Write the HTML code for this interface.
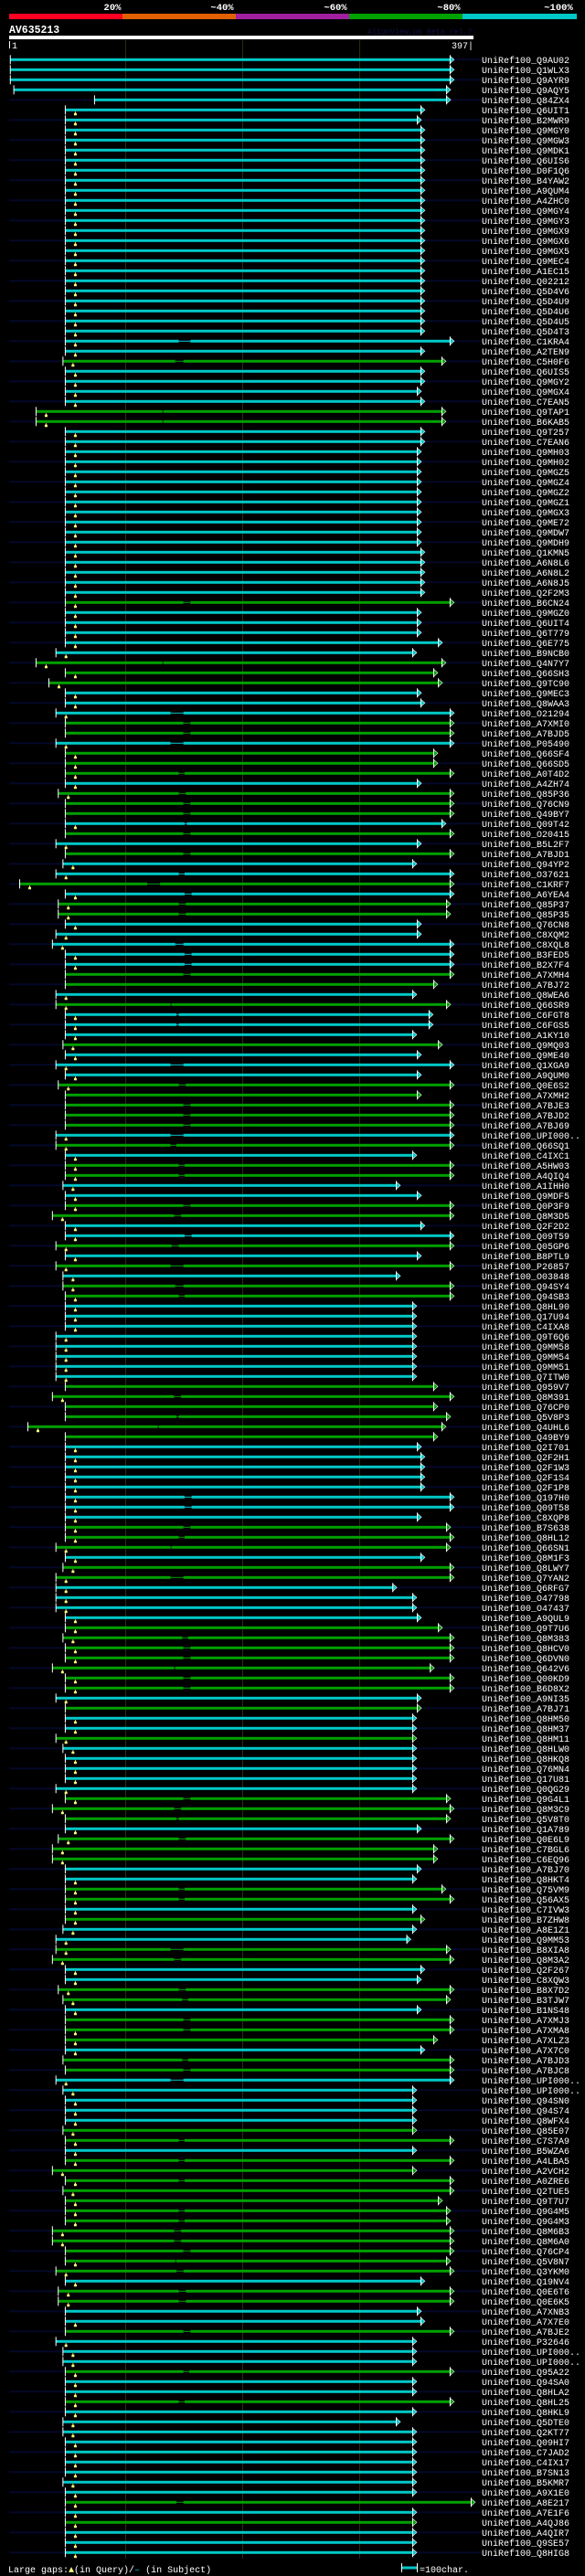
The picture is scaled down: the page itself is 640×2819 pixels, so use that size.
<!DOCTYPE html>
<html><head><meta charset="utf-8"><title>AV635213 alignment overview</title>
<style>
html,body{margin:0;padding:0;background:#000;}
svg{display:block;}
text{font-family:"Liberation Mono","DejaVu Sans Mono",monospace;}
</style></head>
<body>
<svg id="chart" width="640" height="2819" viewBox="0 0 640 2819" xmlns="http://www.w3.org/2000/svg">
<rect x="0" y="0" width="640" height="2819" fill="#000"/>
<g>
<text x="123" y="11" fill="#fff" font-size="10.5" font-weight="bold" text-anchor="middle">20%</text>
<text x="243" y="11" fill="#fff" font-size="10.5" font-weight="bold" text-anchor="middle">~40%</text>
<text x="367" y="11" fill="#fff" font-size="10.5" font-weight="bold" text-anchor="middle">~60%</text>
<text x="491" y="11" fill="#fff" font-size="10.5" font-weight="bold" text-anchor="middle">~80%</text>
<text x="611" y="11" fill="#fff" font-size="10.5" font-weight="bold" text-anchor="middle">~100%</text>
<rect x="10" y="15" width="124" height="6" fill="#ff0022"/>
<rect x="134" y="15" width="124" height="6" fill="#e06000"/>
<rect x="258" y="15" width="124" height="6" fill="#a020a0"/>
<rect x="382" y="15" width="124" height="6" fill="#00a000"/>
<rect x="506" y="15" width="125" height="6" fill="#00c8c8"/>
</g>
<text x="10" y="36" fill="#fff" font-size="11.5" font-weight="bold">AV635213</text>
<text x="402" y="37" fill="#101048" font-size="8.3">AlignView.pm Beta rel.7</text>
<rect x="10" y="39" width="508" height="4" fill="#fff"/>
<rect x="10" y="45" width="1" height="8" fill="#fff"/>
<text x="13" y="53" fill="#fff" font-size="10">1</text>
<text x="518" y="53" fill="#fff" font-size="10" text-anchor="end">397|</text>
<g id="grid"></g>
<g id="rows"></g>
<g>
<text x="9" y="2815" fill="#fff" font-size="10">Large gaps:<tspan fill="#ffff80">▲</tspan>(in Query)/<tspan fill="#00c8c8">–</tspan> (in Subject)</text>
<rect x="439" y="2808.5" width="17" height="3" fill="#00c8c8"/>
<rect x="439" y="2805" width="1" height="10" fill="#fff"/>
<rect x="456" y="2805" width="1" height="10" fill="#fff"/>
<text x="459" y="2815" fill="#fff" font-size="10">=100char.</text>
</g>
</svg>
<script>
const gridTicks = [100, 200, 300];
const hitIds = ["Q9AU02","Q1WLX3","Q9AYR9","Q9AQY5","Q84ZX4","Q6UIT1","B2MWR9","Q9MGY0","Q9MGW3","Q9MDK1","Q6UIS6","D0F1Q6","B4YAW2","A9QUM4","A4ZHC0","Q9MGY4","Q9MGY3","Q9MGX9","Q9MGX6","Q9MGX5","Q9MEC4","A1EC15","Q02212","Q5D4V6","Q5D4U9","Q5D4U6","Q5D4U5","Q5D4T3","C1KRA4","A2TEN9","C5H0F6","Q6UIS5","Q9MGY2","Q9MGX4","C7EAN5","Q9TAP1","B6KAB5","Q9T257","C7EAN6","Q9MH03","Q9MH02","Q9MGZ5","Q9MGZ4","Q9MGZ2","Q9MGZ1","Q9MGX3","Q9ME72","Q9MDW7","Q9MDH9","Q1KMN5","A6N8L6","A6N8L2","A6N8J5","Q2F2M3","B6CN24","Q9MGZ0","Q6UIT4","Q6T779","Q6E775","B9NCB0","Q4N7Y7","Q66SH3","Q9TC90","Q9MEC3","Q8WAA3","O21294","A7XMI0","A7BJD5","P05490","Q66SF4","Q66SD5","A0T4D2","A4ZH74","Q85P36","Q76CN9","Q49BY7","Q09T42","O20415","B5L2F7","A7BJD1","Q94YP2","O37621","C1KRF7","A6YEA4","Q85P37","Q85P35","Q76CN8","C8XQM2","C8XQL8","B3FED5","B2X7F4","A7XMH4","A7BJ72","Q8WEA6","Q66SR9","C6FGT8","C6FGS5","A1KY10","Q9MQ03","Q9ME40","Q1XGA9","A9QUM0","Q0E6S2","A7XMH2","A7BJE3","A7BJD2","A7BJ69","UPI000..","Q66SQ1","C4IXC1","A5HW03","A4QIQ4","A1IHH0","Q9MDF5","Q0P3F9","Q8M3D5","Q2F2D2","Q09T59","Q05GP6","B8PTL9","P26857","O03848","Q94SY4","Q94SB3","Q8HL90","Q17U94","C4IXA8","Q9T6Q6","Q9MM58","Q9MM54","Q9MM51","Q7ITW0","Q959V7","Q8M391","Q76CP0","Q5V8P3","Q4UHL6","Q49BY9","Q2I701","Q2F2H1","Q2F1W3","Q2F1S4","Q2F1P8","Q197H0","Q09T58","C8XQP8","B7S638","Q8HL12","Q66SN1","Q8M1F3","Q8LWY7","Q7YAN2","Q6RFG7","O47798","O47437","A9QUL9","Q9T7U6","Q8M383","Q8HCV0","Q6DVN0","Q642V6","Q00KD9","B6D8X2","A9NI35","A7BJ71","Q8HM50","Q8HM37","Q8HM11","Q8HLW0","Q8HKQ8","Q76MN4","Q17U81","Q0QG29","Q9G4L1","Q8M3C9","Q5V8T0","Q1A789","Q0E6L9","C7BGL6","C6EQ96","A7BJ70","Q8HKT4","Q75VM9","Q56AX5","C7IVW3","B7ZHW8","A8E1Z1","Q9MM53","B8XIA8","Q8M3A2","Q2F267","C8XQW3","B8X7D2","B3TJW7","B1NS48","A7XMJ3","A7XMA8","A7XLZ3","A7X7C0","A7BJD3","A7BJC8","UPI000..","UPI000..","Q94SN0","Q94S74","Q8WFX4","Q85E07","C7S7A9","B5WZA6","A4LBA5","A2VCH2","A0ZRE6","Q2TUE5","Q9T7U7","Q9G4M5","Q9G4M3","Q8M6B3","Q8M6A0","Q76CP4","Q5V8N7","Q3YKM0","Q19NV4","Q0E6T6","Q0E6K5","A7XNB3","A7X7E0","A7BJE2","P32646","UPI000..","UPI000..","Q95A22","Q94SA0","Q8HLA2","Q8HL25","Q8HKL9","Q5DTE0","Q2KT77","Q09HI7","C7JAD2","C4IX17","B7SN13","B5KMR7","A9X1E0","A8E217","A7E1F6","A4QJ86","A4QIR7","Q9SE57","Q8HIG8"];
const greenRows = [30,35,36,54,60,61,62,66,67,69,70,71,73,74,75,77,79,82,84,85,91,92,94,98,102,103,104,105,106,108,110,111,114,115,118,120,122,123,132,133,134,135,136,137,146,147,148,150,151,156,157,158,159,160,161,162,164,167,173,174,175,177,178,179,182,183,185,188,189,192,193,195,196,197,199,200,206,207,209,210,211,212,213,214,215,216,217,218,219,220,222,223,226,230,233,243,245];
const hitStarts = [1,1,1,4,73,48,48,48,48,48,48,48,48,48,48,48,48,48,48,48,48,48,48,48,48,48,48,48,48,48,46,48,48,48,48,23,23,48,48,48,48,48,48,48,48,48,48,48,48,48,48,48,48,48,48,48,48,48,48,40,23,48,34,48,48,40,48,48,40,48,48,48,48,42,48,48,48,48,40,48,46,40,9,48,42,42,48,40,37,48,48,48,48,40,40,48,48,48,46,48,40,48,42,48,48,48,48,40,40,48,48,48,46,48,48,37,48,48,40,48,40,46,46,48,48,48,48,40,40,40,40,40,48,37,48,48,16,48,48,48,48,48,48,48,48,48,48,48,40,48,46,40,40,40,40,48,48,46,48,48,37,48,48,40,48,48,48,40,46,48,48,48,40,48,37,48,48,42,37,37,48,48,48,48,48,48,46,40,40,37,48,48,42,46,48,48,48,48,48,46,48,40,46,48,48,48,46,48,48,48,37,48,46,48,48,48,37,37,48,48,40,48,42,42,48,48,48,40,46,46,48,48,48,48,48,46,46,48,48,48,48,46,48,48,48,48,48,48,48,40];
const hitEnds = [377,377,377,374,374,352,349,352,352,352,352,352,352,352,352,352,352,352,352,352,352,352,352,352,352,352,352,352,377,352,370,352,352,349,352,370,370,352,352,349,349,349,349,349,349,349,349,349,349,352,352,352,352,352,377,349,349,349,367,345,370,363,367,349,352,377,377,377,377,363,363,377,349,377,377,377,370,377,349,377,345,377,377,377,374,374,349,349,377,377,377,377,363,345,374,359,359,345,367,349,377,349,377,349,377,377,377,377,377,345,377,377,331,349,377,377,352,377,377,349,377,331,377,377,345,345,345,345,345,345,345,345,363,377,363,374,370,363,349,352,352,352,352,377,377,349,374,377,374,352,377,377,328,345,345,349,367,377,377,377,360,377,377,349,349,345,345,345,345,345,345,345,345,374,377,374,349,377,363,363,349,345,370,377,345,352,345,340,374,377,352,349,377,374,349,377,377,363,352,377,377,377,345,345,345,345,345,377,345,377,345,377,377,367,374,374,377,377,377,374,377,352,377,377,349,352,377,345,345,345,377,345,345,377,345,331,345,345,345,345,345,345,345,395,345,345,345,345,345];
const gapStarts = [0,0,0,0,0,0,0,0,0,0,0,0,0,0,0,0,0,0,0,0,0,0,0,0,0,0,0,0,145,0,142,0,0,0,0,131,131,0,0,0,0,0,0,0,0,0,0,0,0,0,0,0,0,0,149,0,0,0,0,0,131,0,0,0,0,138,149,149,138,0,0,145,0,145,149,149,150,149,0,149,0,145,118,150,145,145,0,0,142,150,150,149,0,0,138,143,143,0,0,0,138,0,145,0,149,149,149,138,138,0,145,145,0,0,149,141,0,150,139,0,138,0,142,145,0,0,0,0,0,0,0,0,0,141,0,143,127,0,0,0,0,0,0,150,150,0,149,145,138,0,0,138,0,0,0,0,0,148,149,149,141,149,149,0,0,0,0,0,0,0,0,0,0,149,141,143,0,145,0,0,0,0,145,145,0,0,0,0,138,141,0,0,145,148,0,149,149,0,0,148,149,138,0,0,0,0,0,145,0,145,0,145,0,0,145,145,141,141,149,142,143,0,145,145,0,0,149,0,0,0,149,0,0,145,0,0,0,0,0,0,0,0,0,143,0,0,0,0,0];
const gapEnds = [0,0,0,0,0,0,0,0,0,0,0,0,0,0,0,0,0,0,0,0,0,0,0,0,0,0,0,0,155,0,149,0,0,0,0,132,132,0,0,0,0,0,0,0,0,0,0,0,0,0,0,0,0,0,155,0,0,0,0,0,132,0,0,0,0,149,155,155,149,0,0,150,0,151,155,155,152,155,0,155,0,150,129,156,151,151,0,0,149,156,156,155,0,0,139,145,145,0,0,0,149,0,151,0,155,155,155,149,143,0,150,150,0,0,155,147,0,156,145,0,149,0,149,150,0,0,0,0,0,0,0,0,0,147,0,145,128,0,0,0,0,0,0,156,156,0,155,150,139,0,0,149,0,0,0,0,0,153,155,155,142,155,155,0,0,0,0,0,0,0,0,0,0,155,147,145,0,151,0,0,0,0,150,150,0,0,0,0,149,147,0,0,151,153,0,155,155,0,0,153,155,149,0,0,0,0,0,150,0,150,0,150,0,0,150,150,147,147,155,143,149,0,151,151,0,0,155,0,0,0,154,0,0,150,0,0,0,0,0,0,0,0,0,149,0,0,0,0,0];
const noMarkerRows = [0,1,2,3,4,66,67,74,75,77,79,91,92,103,104,105,106,132,134,135,137,164,175,180,195,199,200,218,224,226];

const NS = "http://www.w3.org/2000/svg";
const QUERY_LEN = 397, X0 = 10, X1 = 518;
function xScale(r){ return X0 + r * (X1 - X0) / QUERY_LEN; }
function yScale(i){ return 65.3 + i * 11; }
function mk(tag, attrs, parent){
  const el = document.createElementNS(NS, tag);
  for (const k in attrs) el.setAttribute(k, attrs[k]);
  parent.appendChild(el);
  return el;
}
const grid = document.getElementById('grid');
gridTicks.forEach(function(t){
  const gl = mk('rect', {x: Math.round(xScale(t)) - 1, y: 44, width: 1, height: 2756, fill: '#2c2c12'}, grid);
  
  
});
const rowsG = document.getElementById('rows');
hitIds.forEach(function(id, i){
  const y = yScale(i);
  const color = greenRows.indexOf(i) >= 0 ? '#00a000' : '#00c8c8';
  const g = mk('g', {}, rowsG);
  
  
  if (i % 2 === 0) {
    const st = mk('rect', {x: 10, y: y - 1, width: 517, height: 2, fill: '#040828'}, g);
    
    
  }
  const xs = xScale(hitStarts[i]), xe = xScale(hitEnds[i]);
  if (gapStarts[i] > 0) {
    const gs = xScale(gapStarts[i]), ge = xScale(gapEnds[i]);
    const b1 = mk('rect', {x: xs, y: y - 1.5, width: gs - xs, height: 3, fill: color}, g);
    
    
    const gl = mk('rect', {x: gs, y: y - 0.5, width: ge - gs, height: 1, fill: color}, g);
    
    
    const b2 = mk('rect', {x: ge, y: y - 1.5, width: xe - ge, height: 3, fill: color}, g);
    
    
  } else {
    const b = mk('rect', {x: xs, y: y - 1.5, width: xe - xs, height: 3, fill: color}, g);
    
    
  }
  const tk = mk('rect', {x: xs - 0.5, y: y - 5, width: 1, height: 10, fill: '#fff'}, g);
  
  
  const ar = mk('polygon', {points: xe + ',' + (y - 4) + ' ' + (xe + 4.5) + ',' + y + ' ' + xe + ',' + (y + 4), fill: color, stroke: '#fff', 'stroke-width': 0.6}, g);
  
  
  const et = mk('rect', {x: xe - 0.5, y: y - 5, width: 1, height: 10, fill: '#fff'}, g);
  
  
  if (noMarkerRows.indexOf(i) < 0) {
    const mx = xs + 11;
    const mkr = mk('path', {d: 'M' + (mx - 0.5) + ' ' + (y + 2) + 'h1v1.5h1v2.5h-3v-2.5h1z', fill: '#ffff80'}, g);
    
    
  }
  const lb = mk('text', {x: 527, y: y + 3.5, fill: '#fff', 'font-size': 10}, g);
  lb.textContent = 'UniRef100_' + id;
  
  
});
</script>
</body></html>
